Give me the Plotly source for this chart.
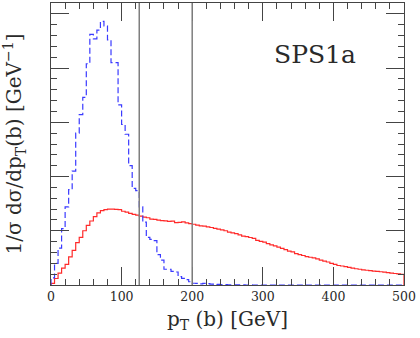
import plotly.graph_objects as go

# 5 GeV bins from 0 to 500 GeV
BIN_WIDTH = 5
bin_left = [i * BIN_WIDTH for i in range(100)]

# SPS1a, dashed blue histogram (falls to ~0 above 250 GeV)
blue_values = [
    0.65, 2.0, 3.4, 5.2, 7.2, 8.8, 10.5, 14.0, 15.7, 17.3,
    20.4, 23.1, 22.7, 23.5, 24.3, 23.9, 22.6, 20.5, 20.5, 16.6,
    14.8, 13.9, 11.0, 8.9, 8.7, 7.2, 5.8, 4.4, 4.2, 4.1,
    2.8, 2.3, 1.45, 1.45, 1.25, 1.2, 0.77, 0.62, 0.5, 0.3,
    0.16, 0.15, 0.1, 0.15, 0.12, 0.08, 0.06, 0.05, 0.04, 0.03,
    0.02, 0.02, 0.01, 0.01, 0.01, 0.0, 0.01, 0.0, 0.0, 0.0,
    0.0, 0.0, 0.0, 0.0, 0.0, 0.0, 0.0, 0.0, 0.0, 0.0,
    0.0, 0.0, 0.0, 0.0, 0.0, 0.0, 0.0, 0.0, 0.0, 0.0,
    0.0, 0.0, 0.0, 0.0, 0.0, 0.0, 0.0, 0.0, 0.0, 0.0,
    0.0, 0.0, 0.0, 0.0, 0.0, 0.0, 0.0, 0.0, 0.0, 0.0,
]

# solid red histogram
red_values = [
    0.15, 0.6, 1.1, 1.55, 1.9, 2.6, 3.2, 3.9, 4.4, 5.0,
    5.5, 5.9, 6.3, 6.65, 6.85, 6.95, 7.0, 7.0, 6.98, 6.95,
    6.8, 6.72, 6.6, 6.52, 6.45, 6.35, 6.25, 6.2, 6.08, 6.05,
    5.98, 5.93, 5.92, 5.86, 5.88, 5.76, 5.78, 5.82, 5.72, 5.66,
    5.6, 5.52, 5.46, 5.42, 5.35, 5.3, 5.22, 5.15, 5.08, 5.0,
    4.88, 4.8, 4.74, 4.62, 4.5, 4.46, 4.38, 4.3, 4.12, 4.02,
    3.95, 3.82, 3.7, 3.6, 3.5, 3.38, 3.26, 3.12, 3.05, 2.9,
    2.8, 2.72, 2.62, 2.56, 2.5, 2.4, 2.3, 2.2, 2.12, 2.0,
    1.9, 1.8, 1.75, 1.7, 1.62, 1.56, 1.5, 1.45, 1.4, 1.36,
    1.32, 1.28, 1.26, 1.22, 1.18, 1.14, 1.1, 1.06, 1.02, 0.99,
]

cut_lines = [125, 200]

FONT = "DejaVu Serif"
TEXT_COL = "#2a2a2a"
AXIS_COL = "#444444"


def step_xy(values):
    # close the histogram down to zero at both ends
    xs = [0] + bin_left + [500, 500]
    ys = [0] + values + [values[-1], 0]
    return xs, ys


fig = go.Figure()

rx, ry = step_xy(red_values)
fig.add_trace(go.Scatter(x=rx, y=ry, mode="lines", line_shape="hv",
                         line=dict(color="#ff2a2a", width=1.2), showlegend=False))

bx, by = step_xy(blue_values)
fig.add_trace(go.Scatter(x=bx, y=by, mode="lines", line_shape="hv",
                         line=dict(color="#3a3aff", width=1.2, dash="6px,3px"),
                         showlegend=False))

for xc in cut_lines:
    fig.add_shape(type="line", xref="x", yref="paper", x0=xc, x1=xc, y0=0, y1=1,
                  line=dict(color="#7f7f7f", width=1.5))

fig.add_annotation(text="SPS1a", xref="paper", yref="paper", x=0.748, y=0.819,
                   xanchor="center", yanchor="middle",
                   showarrow=False, font=dict(family=FONT, size=25, color=TEXT_COL))

fig.update_xaxes(
    range=[0, 500], dtick=100, tick0=0,
    ticks="inside", ticklen=18, tickwidth=1, tickcolor=AXIS_COL,
    minor=dict(dtick=20, ticklen=6, ticks="inside", tickcolor=AXIS_COL),
    showline=True, linecolor=AXIS_COL, linewidth=1, mirror="ticks",
    showgrid=False, zeroline=False,
    tickfont=dict(family=FONT, size=12.5, color=TEXT_COL),
    title=dict(text="p<sub>T</sub> (b) [GeV]", standoff=8,
               font=dict(family=FONT, size=20, color=TEXT_COL)),
)
fig.update_yaxes(
    range=[0, 26], dtick=5, tick0=0,
    ticks="inside", ticklen=18, tickwidth=1, tickcolor=AXIS_COL,
    minor=dict(dtick=1, ticklen=6, ticks="inside", tickcolor=AXIS_COL),
    showline=True, linecolor=AXIS_COL, linewidth=1, mirror="ticks",
    showgrid=False, zeroline=False, showticklabels=False,
    title=dict(text="1/σ dσ/dp<sub>T</sub>(b) [GeV<sup>−1</sup>]", standoff=26,
               font=dict(family=FONT, size=20, color=TEXT_COL)),
)

fig.update_layout(
    width=420, height=338,
    margin=dict(l=51, r=16, t=3, b=53),
    plot_bgcolor="white", paper_bgcolor="white",
)

fig.write_html("out.html", config={"displayModeBar": False},
               post_script="document.body.style.margin = '0';")
